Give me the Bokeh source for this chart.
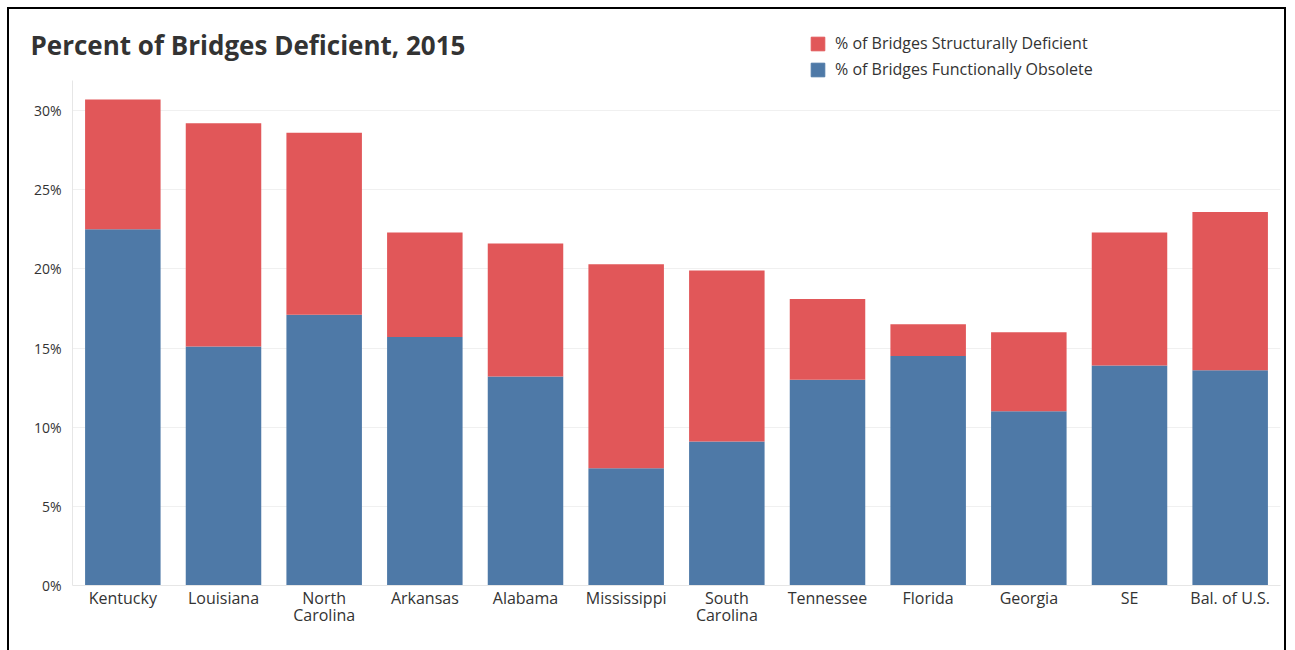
import numpy as np
from bokeh.plotting import figure
from bokeh.layouts import column
from bokeh.models import ColumnDataSource, FactorRange, Label, Legend, LegendItem, Range1d, FixedTicker
from bokeh.embed import file_html
from bokeh.resources import INLINE

# Share of bridges deficient by state, 2015 (percent)
states = ["Kentucky", "Louisiana", "North\nCarolina", "Arkansas", "Alabama", "Mississippi",
          "South\nCarolina", "Tennessee", "Florida", "Georgia", "SE", "Bal. of U.S."]
functionally_obsolete = [22.5, 15.1, 17.1, 15.7, 13.2, 7.4, 9.1, 13.0, 14.5, 11.0, 13.9, 13.6]
structurally_deficient = [8.2, 14.1, 11.5, 6.6, 8.4, 12.9, 10.8, 5.1, 2.0, 5.0, 8.4, 10.0]
y_ticks = [0, 5, 10, 15, 20, 25, 30]
y_tick_labels = {t: f"{t}%" for t in y_ticks}

title_text = "Percent of Bridges Deficient, 2015"
series_labels = ["% of Bridges Structurally Deficient", "% of Bridges Functionally Obsolete"]
RED = "#E15759"
BLUE = "#4E79A7"
TEXT = "#333333"
FONT = "Open Sans"

W = 1275
HEADER_H = 71
CHART_H = 570

# ---- header: title and legend ----
header = figure(
    width=W, height=HEADER_H,
    x_range=Range1d(0, W), y_range=Range1d(0, HEADER_H),
    x_axis_location=None, y_axis_location=None,
    title=None, output_backend="svg", toolbar_location=None,
    min_border=0,
)
header.frame_align = False
header.grid.visible = False
header.outline_line_color = None

header.add_layout(Label(
    x=21, y=36, text=title_text,
    text_font=FONT, text_font_size="26px", text_font_style="bold",
    text_color=TEXT, text_baseline="alphabetic",
))

# legend keys: renderers without drawable geometry, used only for their swatch colour
key_source = ColumnDataSource(dict(l=[np.nan], r=[np.nan], b=[np.nan], t=[np.nan]))
sd_key = header.quad(left="l", right="r", bottom="b", top="t", color=RED, source=key_source)
fo_key = header.quad(left="l", right="r", bottom="b", top="t", color=BLUE, source=key_source)

legend = Legend(
    items=[LegendItem(label=series_labels[0], renderers=[sd_key]),
           LegendItem(label=series_labels[1], renderers=[fo_key])],
    location=(800, 0),
    glyph_width=17, glyph_height=17, label_standoff=9, spacing=4,
    padding=0, margin=0, border_line_color=None, background_fill_alpha=0,
    label_text_font=FONT, label_text_font_size="16px", label_text_color=TEXT,
)
header.add_layout(legend)

# ---- chart: stacked bars ----
source = ColumnDataSource(dict(
    state=states,
    fo=functionally_obsolete,
    sd=structurally_deficient,
))

chart = figure(
    x_range=FactorRange(*states, range_padding=0),
    y_range=Range1d(0, 505 / 15.83),
    width=W, height=CHART_H,
    title=None, output_backend="svg", toolbar_location=None,
    min_border_left=63, min_border_right=4, min_border_top=0, min_border_bottom=65,
)
chart.frame_align = False
chart.outline_line_color = None

chart.vbar_stack(["fo", "sd"], x="state", width=0.75, color=[BLUE, RED],
                 line_color=None, source=source)

chart.yaxis.ticker = FixedTicker(ticks=y_ticks)
chart.yaxis.major_label_overrides = y_tick_labels
chart.yaxis.major_label_standoff = 11
chart.yaxis.major_label_text_font_size = "14px"
chart.xaxis.major_label_standoff = 1
chart.xaxis.major_label_text_font_size = "16px"
chart.xaxis.major_label_text_line_height = 0.8
for ax in (chart.xaxis[0], chart.yaxis[0]):
    ax.axis_line_color = "#e6e6e6"
    ax.major_tick_line_color = None
    ax.minor_tick_line_color = None
    ax.major_tick_out = 0
    ax.major_tick_in = 0
    ax.major_label_text_font = FONT
    ax.major_label_text_color = TEXT

chart.xgrid.grid_line_color = None
chart.ygrid.grid_line_color = "#f0f0f0"

page = column(header, chart, spacing=0, margin=(7, 0, 0, 7))
page.styles = {
    "border-top": "2px solid black",
    "border-left": "2px solid black",
    "border-right": "2px solid black",
}

open("out.html", "w").write(file_html(page, INLINE))
